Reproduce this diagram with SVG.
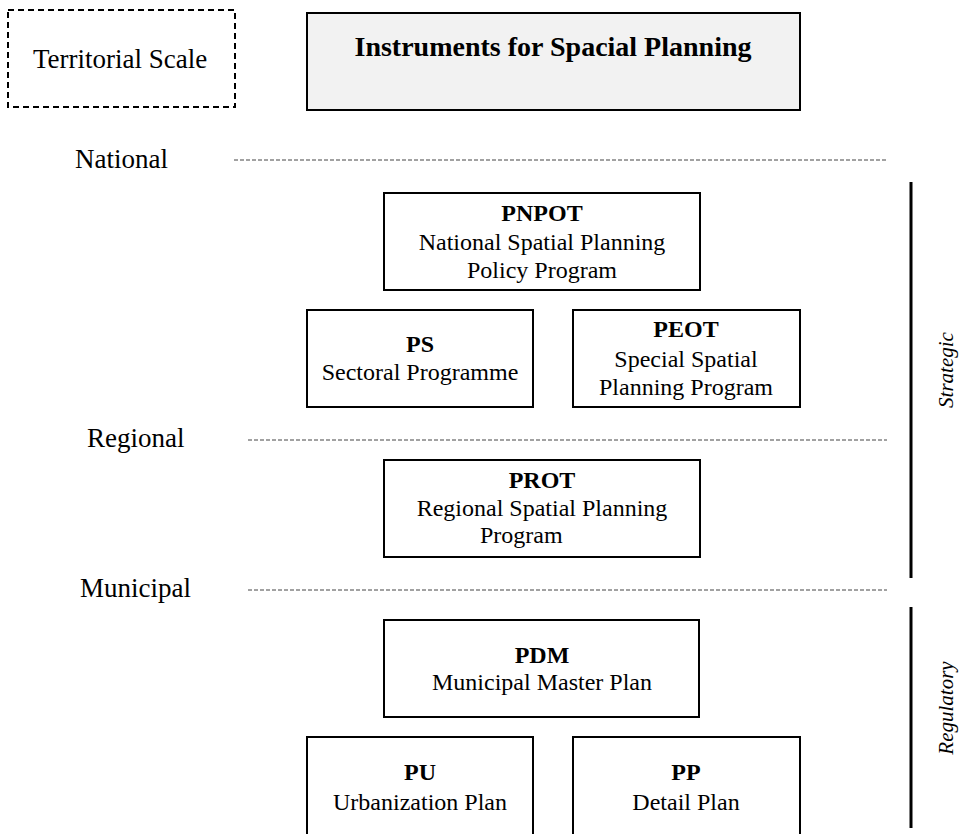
<svg xmlns="http://www.w3.org/2000/svg" width="962" height="834" viewBox="0 0 962 834">
<style>
.bg{fill:#ffffff}
.box{fill:#ffffff;stroke:#000;stroke-width:2}
.title{fill:#f2f2f2;stroke:#000;stroke-width:2}
.dashbox{fill:none;stroke:#000;stroke-width:2;stroke-dasharray:6,4}
.level{stroke:#444;stroke-width:1;stroke-dasharray:4,2;fill:none}
.bar{stroke:#000;stroke-width:3}
text{font-family:"Liberation Serif","Times New Roman",serif;fill:#000}
.h{font-size:24px;font-weight:bold;text-anchor:middle}
.t{font-size:24px;text-anchor:middle}
.lab{font-size:27px}
.side{font-size:21px;font-style:italic;text-anchor:middle}
</style>
<rect class="bg" x="0" y="0" width="962" height="834"/>
<g id="territorial-scale">
<rect class="dashbox" x="8" y="10" width="227" height="97"/>
<text class="lab" x="33" y="68">Territorial Scale</text>
</g>
<g id="title">
<rect class="title" x="307" y="13" width="493" height="97"/>
<text x="553" y="56" style="font-size:28px;font-weight:bold;text-anchor:middle">Instruments for Spacial Planning</text>
</g>
<g id="levels">
<text class="lab" x="75" y="168">National</text>
<text class="lab" x="87" y="447">Regional</text>
<text class="lab" x="80" y="597">Municipal</text>
</g>
<g id="connectors">
<line class="level" x1="234" y1="160" x2="887" y2="160"/>
<line class="level" x1="248" y1="440" x2="887" y2="440"/>
<line class="level" x1="248" y1="590" x2="887" y2="590"/>
<line class="bar" x1="911" y1="182" x2="911" y2="578"/>
<line class="bar" x1="911" y1="607" x2="911" y2="828"/>
</g>
<g id="strategic">
<text class="side" transform="translate(953,370) rotate(-90)">Strategic</text>
</g>
<g id="regulatory">
<text class="side" transform="translate(953,708) rotate(-90)">Regulatory</text>
</g>
<g id="pnpot">
<rect class="box" x="384" y="193" width="316" height="97"/>
<text class="h" x="542" y="221">PNPOT</text>
<text class="t" x="542" y="250">National Spatial Planning</text>
<text class="t" x="542" y="278">Policy Program</text>
</g>
<g id="ps">
<rect class="box" x="307" y="310" width="226" height="97"/>
<text class="h" x="420" y="352">PS</text>
<text class="t" x="420" y="380">Sectoral Programme</text>
</g>
<g id="peot">
<rect class="box" x="573" y="310" width="227" height="97"/>
<text class="h" x="686" y="337">PEOT</text>
<text class="t" x="686" y="367">Special Spatial</text>
<text class="t" x="686" y="395">Planning Program</text>
</g>
<g id="prot">
<rect class="box" x="384" y="460" width="316" height="97"/>
<text class="h" x="542" y="488">PROT</text>
<text class="t" x="542" y="516">Regional Spatial Planning</text>
<text x="480" y="543" style="font-size:24px">Program</text>
</g>
<g id="pdm">
<rect class="box" x="384" y="620" width="315" height="97"/>
<text class="h" x="542" y="663">PDM</text>
<text class="t" x="542" y="690">Municipal Master Plan</text>
</g>
<g id="pu">
<rect class="box" x="307" y="737" width="226" height="110"/>
<text class="h" x="420" y="780">PU</text>
<text class="t" x="420" y="810">Urbanization Plan</text>
</g>
<g id="pp">
<rect class="box" x="573" y="737" width="227" height="110"/>
<text class="h" x="686" y="780">PP</text>
<text class="t" x="686" y="810">Detail Plan</text>
</g>
</svg>
